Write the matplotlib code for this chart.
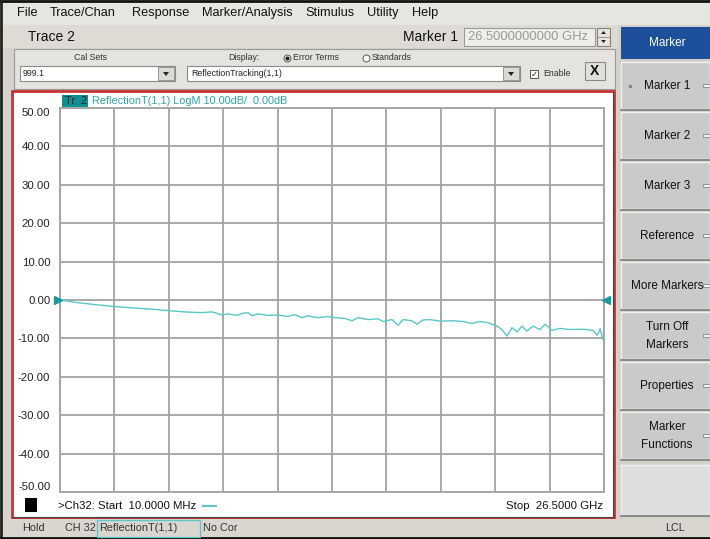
import matplotlib.pyplot as plt
import numpy as np
from matplotlib.patches import Rectangle, Polygon

# trace readings (frequency in GHz, magnitude in dB)
freq_ghz = [0.01, 0.74, 1.71, 2.69, 3.66, 4.64, 5.37, 6.24, 6.92, 7.41, 7.90, 8.19,
            8.63, 8.87, 9.16, 9.36, 9.65, 10.14, 10.63, 11.11, 11.45, 11.79, 12.09,
            12.57, 13.06, 13.40, 13.89, 14.23, 14.52, 15.01, 15.49, 15.74, 16.18,
            16.47, 16.71, 17.15, 17.39, 17.69, 18.03, 18.51, 19.15, 19.63, 20.07,
            20.46, 20.85, 21.29, 21.53, 21.78, 22.02, 22.26, 22.51, 22.75, 23.04,
            23.38, 23.63, 23.97, 24.36, 24.84, 25.33, 25.67, 25.96, 26.16, 26.31,
            26.45, 26.50]
mag_db = [0.0, -0.6, -1.2, -1.7, -2.1, -2.45, -2.8, -3.15, -3.3, -3.1, -3.9, -3.6,
          -4.0, -3.5, -3.3, -4.1, -3.6, -4.0, -3.9, -4.3, -3.8, -4.6, -4.1,
          -4.6, -4.3, -4.6, -4.8, -5.4, -4.6, -5.1, -4.9, -5.6, -5.1,
          -6.6, -5.1, -5.4, -6.3, -5.2, -5.1, -5.5, -5.4, -5.6, -6.1,
          -5.6, -5.9, -6.8, -7.7, -9.4, -7.2, -8.3, -6.8, -8.1, -6.8,
          -7.7, -6.3, -7.9, -7.4, -7.7, -7.6, -7.7, -7.9, -9.2, -7.5,
          -10.3, -9.5]

y_ticks = [50, 40, 30, 20, 10, 0, -10, -20, -30, -40, -50]
menu_items = ['File', 'Trace/Chan', 'Response', 'Marker/Analysis', 'Stimulus', 'Utility', 'Help']
menu_x = [17, 50, 132, 202, 305, 367, 412]
softkeys = ['Marker 1', 'Marker 2', 'Marker 3', 'Reference', 'More Markers',
            'Turn Off\nMarkers', 'Properties', 'Marker\nFunctions']

plt.rcParams['font.family'] = ['Liberation Sans', 'DejaVu Sans']

TEAL = '#5cc6c8'
W, H = 710, 539
fig = plt.figure(figsize=(7.1, 5.39), dpi=100)
fig.patch.set_facecolor('#d6d3cd')

ui = fig.add_axes([0, 0, 1, 1])
ui.set_xlim(0, W)
ui.set_ylim(H, 0)
ui.axis('off')


def box(x0, y0, x1, y1, fc, ec='none', lw=1.0, z=1):
    ui.add_patch(Rectangle((x0, y0), x1 - x0, y1 - y0, fc=fc, ec=ec, lw=lw, zorder=z))


# menu bar
box(0, 0, W, 25, '#e7e5e0')
for name, x in zip(menu_items, menu_x):
    ui.text(x, 13, name, fontsize=9.2, va='center', color='#111111')
ui.plot([0, W], [1, 1], color='#111111', lw=2)
ui.plot([1, 1], [0, H], color='#222222', lw=2)

# trace row
box(0, 25, 618, 48, '#dedbd5')
ui.text(28, 37, 'Trace 2', fontsize=10, va='center', color='#111111')
ui.text(458, 37, 'Marker 1', fontsize=10, va='center', ha='right', color='#111111')
box(464, 28, 595, 46, '#efeeea', ec='#9a9a9a', lw=0.8)
ui.text(468, 37, '26.5000000000 GHz', fontsize=9.4, va='center', color='#9a9a9a')
box(597, 28, 610, 46, '#e8e6e1', ec='#808080', lw=0.8)
ui.plot([597, 610], [37, 37], color='#808080', lw=0.6)
ui.add_patch(Polygon([[601, 34], [606, 34], [603.5, 31]], fc='#222222'))
ui.add_patch(Polygon([[601, 40], [606, 40], [603.5, 43]], fc='#222222'))

# cal sets panel
box(14, 49, 615, 89, '#e5e3de', ec='#9a9a9a', lw=0.8)
ui.text(90, 58, 'Cal Sets', fontsize=6.3, ha='center', va='center', color='#333333')
ui.text(228, 58, 'Display:', fontsize=6.3, va='center', color='#333333')
ui.plot([287], [58], marker='o', ms=5, mfc='white', mec='#555555', mew=0.7)
ui.plot([287], [58], marker='o', ms=2, color='#222222')
ui.text(293, 58, 'Error Terms', fontsize=6.3, va='center', color='#333333')
ui.plot([366], [58], marker='o', ms=5, mfc='white', mec='#555555', mew=0.7)
ui.text(372, 58, 'Standards', fontsize=6.3, va='center', color='#333333')
box(20, 66, 175, 81, 'white', ec='#8a8a8a', lw=0.8)
ui.text(23, 73.5, '999.1', fontsize=6.3, va='center', color='#222222')
box(158, 67, 174, 80, '#dcdad5', ec='#8a8a8a', lw=0.6)
ui.add_patch(Polygon([[163, 72], [169, 72], [166, 76]], fc='#222222'))
box(187, 66, 520, 81, 'white', ec='#8a8a8a', lw=0.8)
ui.text(191, 73.5, 'ReflectionTracking(1,1)', fontsize=6.3, va='center', color='#222222')
box(503, 67, 519, 80, '#dcdad5', ec='#8a8a8a', lw=0.6)
ui.add_patch(Polygon([[508, 72], [514, 72], [511, 76]], fc='#222222'))
box(530, 70, 538, 78, 'white', ec='#555555', lw=0.7)
ui.text(534, 74, '\u2713', fontsize=6, ha='center', va='center', color='#222222',
        family='DejaVu Sans')
ui.text(543, 74, 'Enable', fontsize=6.3, va='center', color='#333333')
box(585, 62, 605, 80, '#e2e0db', ec='#8a8a8a', lw=0.8)
ui.text(595, 71, 'X', fontsize=10, ha='center', va='center', color='#111111', weight='bold')

# chart frame
box(12, 91, 614, 518, 'white', ec='#c43434', lw=2.0)
ui.plot([13, 613, 613], [517, 517, 92], color='#444444', lw=0.8, zorder=2)

# header
box(62, 95, 88, 107, '#108f92', z=3)
ui.text(65, 101, 'Tr  2', fontsize=7.8, va='center', color='#0a2a2a', zorder=4)
ui.text(92, 101, 'ReflectionT(1,1) LogM 10.00dB/  0.00dB', fontsize=7.8,
        va='center', color='#2aa6ad', zorder=4)

# footer of chart
box(25, 498, 37, 512, '#000000', z=3)
ui.text(58, 506, '>Ch32: Start  10.0000 MHz', fontsize=8.2, va='center', color='#111111')
ui.plot([203, 216], [506, 506], color=TEAL, lw=1.5)
ui.text(603, 506, 'Stop  26.5000 GHz', fontsize=8.2, va='center', ha='right', color='#111111')

# status bar
box(0, 519, W, 539, '#d9d6d0')
ui.plot([0, W], [538, 538], color='#111111', lw=2)
ui.text(22, 528, 'Hold', fontsize=7.8, va='center', color='#333333')
ui.text(65, 528, 'CH 32', fontsize=7.8, va='center', color='#333333')
box(97, 520, 200, 537, 'none', ec=TEAL, lw=0.9, z=2)
ui.text(99, 528, 'ReflectionT(1,1)', fontsize=7.8, va='center', color='#333333')
ui.text(203, 528, 'No Cor', fontsize=7.8, va='center', color='#333333')
ui.text(665, 528, 'LCL', fontsize=7.8, va='center', color='#333333')

# right softkey panel
box(618, 25, W, 519, '#d4d1cb')
box(621, 27, W, 59, '#1d4f9c')
ui.text(667, 43, 'Marker', fontsize=8.5, ha='center', va='center', color='white')
for i, label in enumerate(softkeys):
    top = 62 + i * 50
    box(621, top, W, top + 47, '#cacaca', ec='#f0f0f0', lw=1.0)
    ui.plot([621, W], [top + 47.5, top + 47.5], color='#7a7a7a', lw=1.2)
    ui.text(667, top + 24, label, fontsize=8.5, ha='center', va='center',
            color='#111111', linespacing=1.7)
    box(703, top + 22, W, top + 25, '#efefef', ec='#777777', lw=0.5)
box(621, 465, W, 515, '#dedede', ec='#f0f0f0', lw=1.0)
ui.plot([621, W], [515.5, 515.5], color='#7a7a7a', lw=1.2)
ui.text(630, 87, '\u00d7', fontsize=6, ha='center', va='center', color='#333333')

# plot area
ax = fig.add_axes([60 / W, 1 - 492 / H, 544 / W, 384 / H])
ax.set_facecolor('white')
ax.plot(freq_ghz, mag_db, color=TEAL, lw=1.0, zorder=3)
ax.set_xlim(0.01, 26.5)
ax.set_ylim(-50, 50)
ax.set_xticks(np.linspace(0.01, 26.5, 11))
ax.set_yticks(y_ticks)
ax.set_yticklabels(['%.2f' % v for v in y_ticks])
ax.tick_params(length=0, pad=7, labelsize=8.2, labelbottom=False, labelcolor='#222222')
labels = ax.get_yticklabels()
labels[0].set_va('top')
labels[-1].set_va('bottom')
ax.grid(True, color='#a3a3a3', lw=1.3)
for s in ax.spines.values():
    s.set_color('#a3a3a3')
    s.set_linewidth(1.3)
ax.plot([-0.004], [0.5], marker='>', ms=6, color='#1a9a9c', transform=ax.transAxes,
        clip_on=False, zorder=4)
ax.plot([1.004], [0.5], marker='<', ms=6, color='#1a9a9c', transform=ax.transAxes,
        clip_on=False, zorder=4)

fig.savefig('out.png', dpi=100, facecolor=fig.get_facecolor())
